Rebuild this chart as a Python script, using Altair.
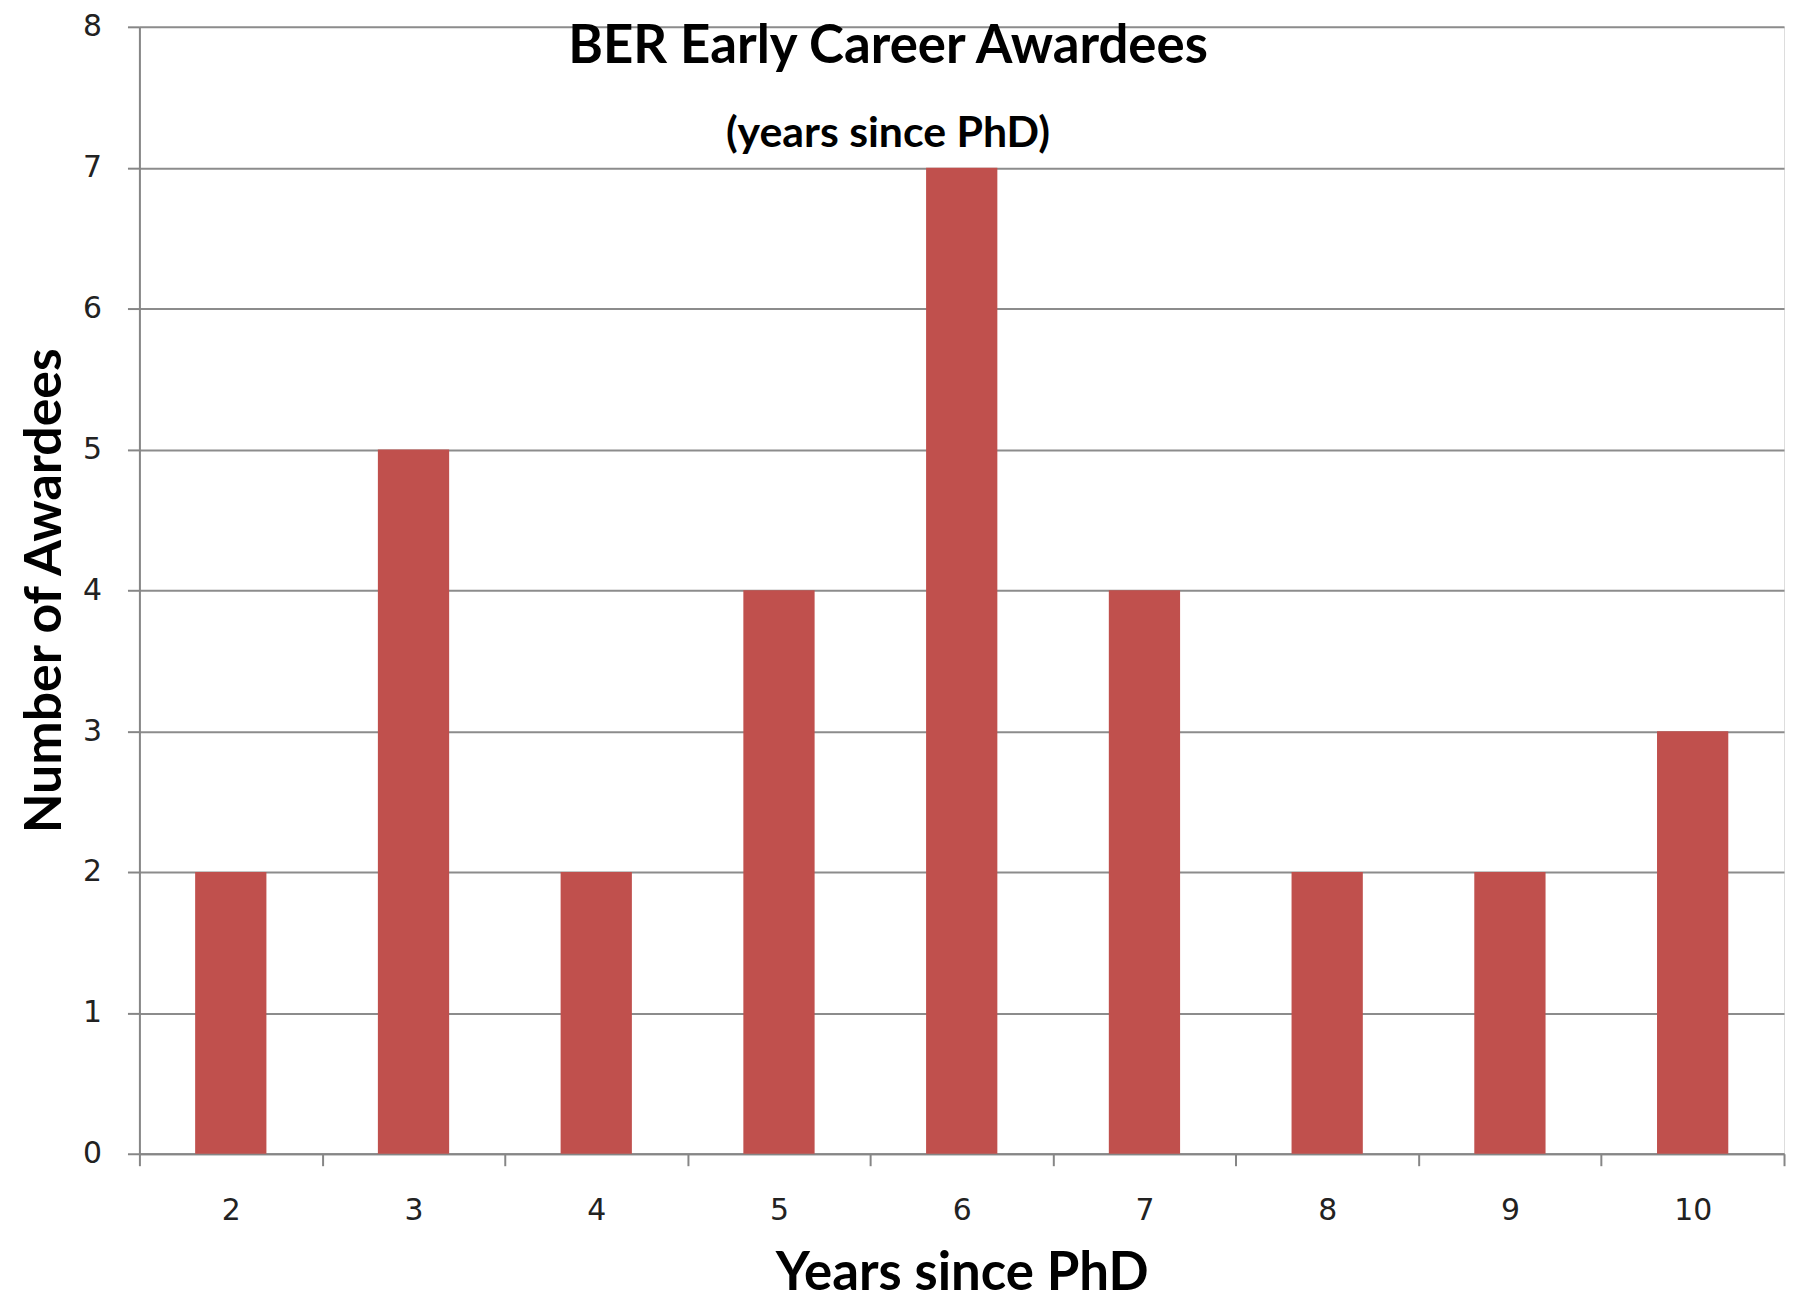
import altair as alt
import pandas as pd

years = ["2", "3", "4", "5", "6", "7", "8", "9", "10"]
awardees = [2, 5, 2, 4, 7, 4, 2, 2, 3]

title_line1 = "BER Early Career Awardees"
title_line2 = "(years since PhD)"

df = pd.DataFrame({"year": years, "count": awardees})

bars = alt.Chart(df).mark_bar(color="#C0504D", width=alt.RelativeBandSize(0.39)).encode(
    x=alt.X("year:N", sort=years,
            scale=alt.Scale(paddingInner=0, paddingOuter=0),
            axis=alt.Axis(title="Years since PhD", labelAngle=0, tickBand="extent",
                          labelFont="DejaVu Sans", labelFontSize=30, labelColor="#222222",
                          labelPadding=30, tickSize=12, tickColor="#868686", tickWidth=2,
                          domainColor="#868686", domainWidth=2,
                          titleFont="Lato", titleFontSize=53, titleFontWeight="bold",
                          titleColor="#000000", titlePadding=22, grid=False)),
    y=alt.Y("count:Q", scale=alt.Scale(domain=[0, 8], nice=False),
            axis=alt.Axis(title="Number of Awardees", values=list(range(0, 9)),
                          labelFont="DejaVu Sans", labelFontSize=30, labelColor="#222222",
                          labelPadding=26, tickSize=12, tickColor="#868686", tickWidth=2,
                          domainColor="#868686", domainWidth=2,
                          grid=True, gridColor="#8C8C8C", gridWidth=2,
                          titleFont="Lato", titleFontSize=52, titleFontWeight="bold",
                          titleColor="#000000", titlePadding=11)),
)

t1 = alt.Chart(pd.DataFrame({"t": [title_line1]})).mark_text(
    font="Lato", fontSize=53, fontWeight="bold", color="#000000", align="center", baseline="middle"
).encode(x=alt.value(752), y=alt.value(20), text="t:N")

t2 = alt.Chart(pd.DataFrame({"t": [title_line2]})).mark_text(
    font="Lato", fontSize=43, fontWeight="bold", color="#000000", align="center", baseline="middle"
).encode(x=alt.value(752), y=alt.value(108), text="t:N")

chart = alt.layer(bars, t1, t2).properties(
    width=1652, height=1132,
    autosize=alt.AutoSizeParams(type="none"),
    padding={"left": 132, "top": 16, "right": 5, "bottom": 144},
).configure_view(stroke=None).configure(background="white")

chart.save("out.html", embed_options={"renderer": "svg", "actions": False})
